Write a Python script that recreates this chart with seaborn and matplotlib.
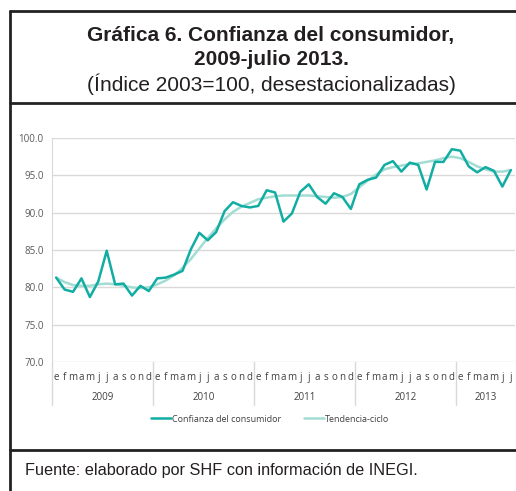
"""
Gráfica 6. Confianza del consumidor, 2009-julio 2013.
"""

import numpy as np
import pandas as pd
import matplotlib
matplotlib.use("Agg")
import matplotlib.pyplot as plt
from matplotlib import font_manager
from matplotlib.lines import Line2D
import seaborn as sns


years = ["2009", "2010", "2011", "2012", "2013"]
months_per_year = [12, 12, 12, 12, 7]
month_letters = ["e", "f", "m", "a", "m", "j", "j", "a", "s", "o", "n", "d"]

confianza = [
    81.3, 79.7, 79.4, 81.2, 78.7, 80.8, 84.9, 80.4, 80.5, 78.9, 80.2, 79.5,
    81.2, 81.3, 81.7, 82.2, 85.1, 87.3, 86.3, 87.4, 90.2, 91.4, 90.9, 90.7,
    90.9, 93.0, 92.7, 88.8, 89.9, 92.8, 93.8, 92.1, 91.2, 92.6, 92.1, 90.5,
    93.8, 94.4, 94.7, 96.4, 96.9, 95.5, 96.7, 96.4, 93.1, 96.8, 96.8, 98.5,
    98.3, 96.2, 95.4, 96.1, 95.6, 93.5, 95.7,
]
tendencia = [
    81.3, 80.7, 80.3, 80.2, 80.2, 80.4, 80.5, 80.4, 80.2, 80.0, 79.9, 80.0,
    80.4, 80.9, 81.6, 82.6, 83.8, 85.2, 86.6, 87.9, 89.1, 90.1, 90.8, 91.3,
    91.8, 92.0, 92.2, 92.3, 92.3, 92.3, 92.3, 92.2, 92.1, 92.0, 92.1, 92.5,
    93.4, 94.3, 95.1, 95.8, 96.1, 96.3, 96.5, 96.6, 96.8, 97.0, 97.3, 97.5,
    97.3, 96.8, 96.2, 95.8, 95.5, 95.5, 95.7,
]

serie_names = ["Confianza del consumidor", "Tendencia-ciclo"]
colors = ["#11ADA3", "#A2DCD3"]


def pick_font(names):
    available = {f.name for f in font_manager.fontManager.ttflist}
    for name in names:
        if name in available:
            return name
    return "DejaVu Sans"


def main():
    sns.set_style("white")
    plt.rcParams["font.family"] = ["Liberation Sans", "DejaVu Sans"]
    narrow = pick_font(["Liberation Sans Narrow", "Open Sans", "Roboto"])

    n = len(confianza)
    pos = np.arange(n) + 0.5
    data = pd.DataFrame({
        "pos": np.concatenate([pos, pos]),
        "valor": confianza + tendencia,
        "serie": [serie_names[0]] * n + [serie_names[1]] * n,
    })

    fig = plt.figure(figsize=(5.16, 4.91), dpi=100)
    ax = fig.add_axes([52 / 516, 1 - 362 / 491, 463 / 516, 224 / 491])

    sns.lineplot(data=data, x="pos", y="valor", hue="serie",
                 hue_order=serie_names[::-1], palette=colors[::-1],
                 linewidth=1.8, ax=ax, legend=False)

    ax.set_xlim(0, n)
    ax.set_ylim(70, 100)
    ax.set_yticks(np.arange(70, 101, 5))
    ax.set_yticklabels([f"{v:.1f}" for v in np.arange(70, 101, 5)],
                       fontsize=7, color="#595959", family=narrow)
    ax.yaxis.grid(True, color="#D9D9D9", linewidth=1)
    ax.set_axisbelow(True)
    ax.tick_params(axis="y", length=0, pad=6)
    for side in ["top", "right", "bottom"]:
        ax.spines[side].set_visible(False)
    ax.spines["left"].set_color("#D9D9D9")
    ax.set_xlabel("")
    ax.set_ylabel("")

    # month labels and separators
    ax.set_xticks(np.arange(0, n + 1))
    ax.set_xticklabels([])
    ax.tick_params(axis="x", length=20, color="#D9D9D9", width=1)
    labels = [month_letters[i % 12] for i in range(n)]
    for p, lab in zip(pos, labels):
        ax.text(p, -0.07, lab, transform=ax.get_xaxis_transform(),
                ha="center", va="center", fontsize=7, color="#404040",
                family=narrow)

    # year dividers and labels
    start = 0
    for year, count in zip(years, months_per_year):
        ax.plot([start, start], [0, -0.19], transform=ax.get_xaxis_transform(),
                color="#D9D9D9", linewidth=1, clip_on=False)
        ax.text(start + count / 2, -0.16, year,
                transform=ax.get_xaxis_transform(), ha="center", va="center",
                fontsize=7, color="#404040", family=narrow)
        start += count

    handles = [Line2D([], [], color=c, linewidth=1.8) for c in colors]
    fig.legend(handles, serie_names, loc="center", ncol=2,
               bbox_to_anchor=(270 / 516, 1 - 419 / 491), frameon=False,
               handlelength=2.2, handletextpad=0.1, columnspacing=2.5,
               prop={"family": narrow, "size": 6.5}, labelcolor="#404040")

    # frame and boxes
    frame = dict(color="#222222", linewidth=2)
    fig.add_artist(Line2D([9.5 / 516, 9.5 / 516], [0, 1 - 11 / 491], **frame))
    fig.add_artist(Line2D([9.5 / 516, 1], [1 - 11 / 491, 1 - 11 / 491], **frame))
    fig.add_artist(Line2D([9.5 / 516, 1], [1 - 103 / 491, 1 - 103 / 491], **frame))
    fig.add_artist(Line2D([9.5 / 516, 1], [1 - 450 / 491, 1 - 450 / 491], **frame))

    fig.text(271 / 516, 1 - 36 / 491, "Gráfica 6. Confianza del consumidor,",
             ha="center", va="center", fontsize=15, fontweight="bold",
             color="#231F20")
    fig.text(271 / 516, 1 - 60 / 491, "2009-julio 2013.",
             ha="center", va="center", fontsize=15, fontweight="bold",
             color="#231F20")
    fig.text(271 / 516, 1 - 84 / 491, "(Índice 2003=100, desestacionalizadas)",
             ha="center", va="center", fontsize=15, color="#231F20")
    fig.text(25 / 516, 1 - 470 / 491,
             "Fuente: elaborado por SHF con información de INEGI.",
             ha="left", va="center", fontsize=11.7, color="#231F20")

    fig.savefig("out.png", dpi=100)


if __name__ == "__main__":
    main()
